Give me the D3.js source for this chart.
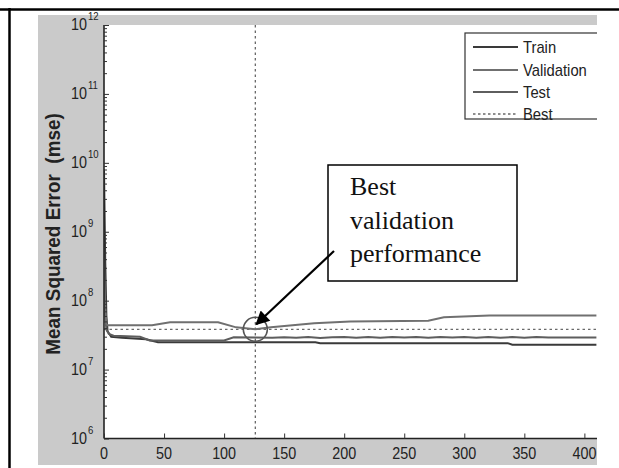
<!DOCTYPE html>
<html><head><meta charset="utf-8">
<script src="https://cdn.jsdelivr.net/npm/d3@7/dist/d3.min.js"></script>
<style>body{margin:0;background:#fff}svg{display:block}</style>
</head><body>
<svg id="c" width="619" height="468"></svg>
<script>
// ---- data ----
const trainEpochs = [0,1,2,3,6,15,35,45,176,180,336,340,410];
const trainMSE    = [8e9,4e8,6e7,3.6e7,3.0e7,2.9e7,2.75e7,2.5e7,2.5e7,2.42e7,2.42e7,2.3e7,2.3e7];
const valEpochs   = [0,1,2,3,40,55,95,110,126,139,175,205,270,283,321,410];
const valMSE      = [3e8,8e7,4.6e7,4.4e7,4.4e7,4.85e7,4.85e7,4.1e7,3.84e7,4.1e7,4.7e7,5.0e7,5.1e7,5.74e7,6.1e7,6.1e7];
const testEpochs  = [0,1,2,4,8,30,38,100,108,140,150,160,170,180,190,200,210,220,230,240,250,260,270,280,290,300,310,320,330,340,350,360,370,410];
const testMSE     = [1.5e8,6e7,3.8e7,3.3e7,3.1e7,3.0e7,2.65e7,2.65e7,2.95e7,2.9e7,2.95e7,2.9e7,2.98e7,2.88e7,2.95e7,2.98e7,2.9e7,2.97e7,2.9e7,2.98e7,2.92e7,2.98e7,2.9e7,2.98e7,2.92e7,2.98e7,2.9e7,2.98e7,2.9e7,2.97e7,2.9e7,2.97e7,2.93e7,2.93e7];
const bestEpoch = 126;
const bestMSE = 3.84e7;
const xTicks = [0,50,100,150,200,250,300,350,400];
const yExponents = [6,7,8,9,10,11,12];
const legendLabels = ["Train","Validation","Test","Best"];
const yLabel = "Mean Squared Error  (mse)";
const noteLines = ["Best","validation","performance"];

const svg = d3.select("#c");
const L=104, R=597, T=25, B=438.5;
const x = d3.scaleLinear().domain([0,412]).range([L, L + 493*412/410.5]);
const y = d3.scaleLog().domain([1e6,1e12]).range([B,T]);

// outer frame lines
svg.append("line").attr("x1",0).attr("x2",619).attr("y1",9.5).attr("y2",9.5).attr("stroke","#000").attr("stroke-width",2.5);
svg.append("line").attr("x1",9.5).attr("x2",9.5).attr("y1",8).attr("y2",468).attr("stroke","#000").attr("stroke-width",2.5);

// grey figure background
svg.append("rect").attr("x",38).attr("y",15).attr("width",R-38).attr("height",465-15).attr("fill","#cacaca");
// plot area
svg.append("rect").attr("x",L).attr("y",T).attr("width",R-L).attr("height",B-T).attr("fill","#fff");

const defs = svg.append("defs");
defs.append("clipPath").attr("id","pc").append("rect").attr("x",L).attr("y",T-2).attr("width",R-L).attr("height",B-T+4);
defs.append("clipPath").attr("id","lc").append("rect").attr("x",0).attr("y",0).attr("width",R).attr("height",468);
defs.append("marker").attr("id","ah").attr("viewBox","0 0 10 10").attr("refX",9).attr("refY",5)
  .attr("markerWidth",16).attr("markerHeight",14).attr("markerUnits","userSpaceOnUse").attr("orient","auto")
  .append("path").attr("d","M0,0 L10,5 L0,10 z").attr("fill","#000");

const plot = svg.append("g").attr("clip-path","url(#pc)");

// best lines (dotted)
plot.append("line").attr("x1",x(bestEpoch)).attr("x2",x(bestEpoch)).attr("y1",T).attr("y2",B)
  .attr("stroke","#6a6a6a").attr("stroke-width",1.3).attr("stroke-dasharray","2.5,3");
plot.append("line").attr("x1",L).attr("x2",R).attr("y1",y(bestMSE)).attr("y2",y(bestMSE))
  .attr("stroke","#6a6a6a").attr("stroke-width",1.3).attr("stroke-dasharray","2.5,3");

const line = d3.line().x(d=>x(d[0])).y(d=>y(d[1]));
const series = [
  {e:trainEpochs, v:trainMSE, c:"#3a3a3a"},
  {e:testEpochs, v:testMSE, c:"#5e5e5e"},
  {e:valEpochs, v:valMSE, c:"#707070"}
];
series.forEach(s=>{
  plot.append("path").datum(s.e.map((e,i)=>[e,s.v[i]])).attr("d",line)
    .attr("fill","none").attr("stroke",s.c).attr("stroke-width",2);
});

// circle at best
plot.append("circle").attr("cx",x(bestEpoch)).attr("cy",y(bestMSE)).attr("r",12)
  .attr("fill","none").attr("stroke","#555").attr("stroke-width",1.6);

// axes
const ax = svg.append("g").attr("font-family","'Liberation Sans',Arial,sans-serif").attr("fill","#222");
const gy = svg.append("g").attr("transform",`translate(${L},0)`)
  .call(d3.axisLeft(y).tickValues(yExponents.map(p=>Math.pow(10,p))).tickSize(-5).tickFormat(""));
const minor = [];
yExponents.slice(0,-1).forEach(p=>{for(let k=2;k<10;k++) minor.push(k*Math.pow(10,p));});
svg.append("g").attr("transform",`translate(${L},0)`).call(d3.axisLeft(y).tickValues(minor).tickSize(-3).tickFormat(""))
  .call(g=>g.select(".domain").remove());
const gx = svg.append("g").attr("transform",`translate(0,${B})`).call(d3.axisBottom(x).tickValues(xTicks).tickSize(-5).tickFormat(""));
[gy,gx].forEach(g=>{g.select(".domain").attr("stroke","#222").attr("stroke-width",1.6);});
gx.select(".domain").attr("d",`M${L},0H${R}`);
gy.select(".domain").attr("d",`M0,${B}V${T}`);
svg.selectAll(".tick line").attr("stroke","#333");

// x tick labels
xTicks.forEach(t=>{
  ax.append("text").attr("transform",`translate(${x(t)},459) scale(0.87,1)`).attr("text-anchor","middle")
    .attr("font-size",16.5).text(t);
});
// y tick labels 10^n
yExponents.forEach(p=>{
  const yy = y(Math.pow(10,p));
  ax.append("text").attr("transform",`translate(87,${yy+5}) scale(0.87,1)`).attr("text-anchor","end")
    .attr("font-size",16.5).text("10");
  ax.append("text").attr("transform",`translate(88,${yy-5}) scale(0.87,1)`).attr("font-size",11).text(p);
});
// y label
svg.append("text").attr("transform",`translate(60,234) rotate(-90) scale(0.9,1)`).attr("text-anchor","middle")
  .attr("font-family","'Liberation Sans',Arial,sans-serif").attr("font-weight","bold").attr("font-size",21)
  .attr("fill","#222").attr("xml:space","preserve").style("white-space","pre").text(yLabel);

// legend
const lg = svg.append("g").attr("clip-path","url(#lc)");
lg.append("rect").attr("x",465).attr("y",33).attr("width",160).attr("height",86).attr("fill","#fff")
  .attr("stroke","#333").attr("stroke-width",1.2);
const lcol = ["#3a3a3a","#707070","#5e5e5e","#6a6a6a"];
const lyy = [47,70,92,114];
legendLabels.forEach((lab,i)=>{
  lg.append("line").attr("x1",473).attr("x2",518).attr("y1",lyy[i]).attr("y2",lyy[i])
    .attr("stroke",lcol[i]).attr("stroke-width",i===3?1.3:2).attr("stroke-dasharray",i===3?"2.5,2.5":null);
  lg.append("text").attr("transform",`translate(523,${lyy[i]+6}) scale(0.87,1)`)
    .attr("font-family","'Liberation Sans',Arial,sans-serif").attr("font-size",17).attr("fill","#222").text(lab);
});

// annotation box
svg.append("rect").attr("x",328).attr("y",165).attr("width",189).attr("height",116)
  .attr("fill","#fff").attr("stroke","#000").attr("stroke-width",1.5);
const nb = [195,229,262];
noteLines.forEach((t,i)=>{
  svg.append("text").attr("x",350).attr("y",nb[i]).attr("font-family","'Liberation Serif','Times New Roman',serif")
    .attr("font-size",26).attr("fill","#111").text(t);
});
// arrow
svg.append("line").attr("x1",334).attr("y1",251).attr("x2",x(bestEpoch)+1).attr("y2",y(bestMSE)-5)
  .attr("stroke","#000").attr("stroke-width",2.2).attr("marker-end","url(#ah)");
</script>
</body></html>
